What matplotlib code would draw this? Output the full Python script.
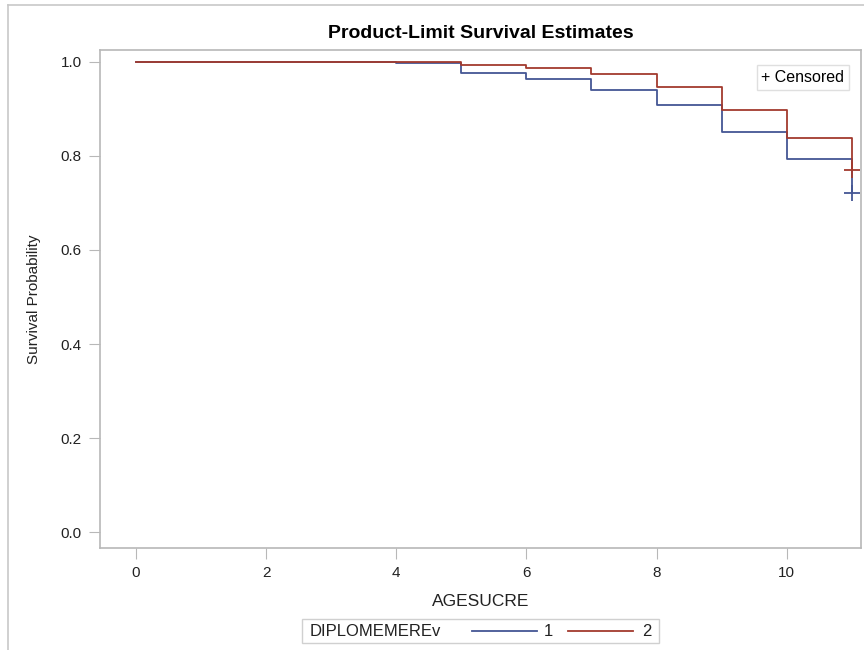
import matplotlib.pyplot as plt
from matplotlib.lines import Line2D
from matplotlib.patches import Rectangle

plt.rcParams['font.family'] = ['Liberation Sans', 'DejaVu Sans']

# Kaplan-Meier estimates
ages = [0, 4, 5, 6, 7, 8, 9, 10, 11]
surv_1 = [1.0, 0.997, 0.976, 0.964, 0.940, 0.909, 0.851, 0.794, 0.722]
surv_2 = [1.0, 1.0, 0.994, 0.987, 0.974, 0.947, 0.897, 0.839, 0.770]
cens_age = 11
cens_1 = 0.722
cens_2 = 0.770

groups = ["1", "2"]
blue = "#445694"
red = "#A23A2E"
frame = "#B8B8B8"

fig = plt.figure(figsize=(8.64, 6.5), dpi=100)
ax = fig.add_axes([100/864, 1-548/650, 761/864, 498/650])

ax.step(ages, surv_1, where="post", color=blue, lw=1.3)
ax.step(ages, surv_2, where="post", color=red, lw=1.3)
ax.plot([cens_age], [cens_1], marker="+", ms=11, mew=1.3, color=blue, ls="none")
ax.plot([cens_age], [cens_2], marker="+", ms=11, mew=1.3, color=red, ls="none")

ax.set_xlim(-0.55, 11.14)
ax.set_ylim(-0.034, 1.0255)
ax.set_xticks([0, 2, 4, 6, 8, 10])
ax.set_yticks([0.0, 0.2, 0.4, 0.6, 0.8, 1.0])
ax.set_yticklabels(["0.0", "0.2", "0.4", "0.6", "0.8", "1.0"])
ax.tick_params(length=8, color=frame, labelsize=11, labelcolor="#222222", pad=5)
for s in ax.spines.values():
    s.set_color(frame)
    s.set_linewidth(1.2)

ax.set_xlabel("AGESUCRE", fontsize=12.5, color="#222222", labelpad=10)
ax.set_ylabel("Survival Probability", fontsize=11, color="#222222", labelpad=14)
ax.set_title("Product-Limit Survival Estimates", fontsize=14, fontweight="bold", pad=9)

# censored legend inside the plot
ax.legend(handles=[Line2D([], [], ls="none")], labels=["+ Censored"], loc="upper right",
          fontsize=11.5, handlelength=0, handletextpad=0, fancybox=False,
          edgecolor="#D8D8D8", borderpad=0.3, bbox_to_anchor=(0.995, 0.985))

# group legend below the plot
fig.patches.append(Rectangle((302/864, 1-643/650), 357/864, 24/650, transform=fig.transFigure,
                             fill=False, edgecolor="#D0D0D0", lw=1))
fig.text(310/864, 1-631/650, "DIPLOMEMEREv", fontsize=12, va="center", color="#222222")
fig.add_artist(Line2D([472/864, 537/864], [1-631/650, 1-631/650], color=blue, lw=1.3))
fig.text(544/864, 1-631/650, groups[0], fontsize=12, va="center", color="#222222")
fig.add_artist(Line2D([568/864, 633/864], [1-631/650, 1-631/650], color=red, lw=1.3))
fig.text(642/864, 1-631/650, groups[1], fontsize=12, va="center", color="#222222")

# page borders of the screenshot
fig.add_artist(Line2D([8/864, 1], [1-5/650, 1-5/650], color="#C8C8C8", lw=1.2))
fig.add_artist(Line2D([8/864, 8/864], [0, 1-5/650], color="#C8C8C8", lw=1.2))

fig.savefig("out.png", dpi=100)
